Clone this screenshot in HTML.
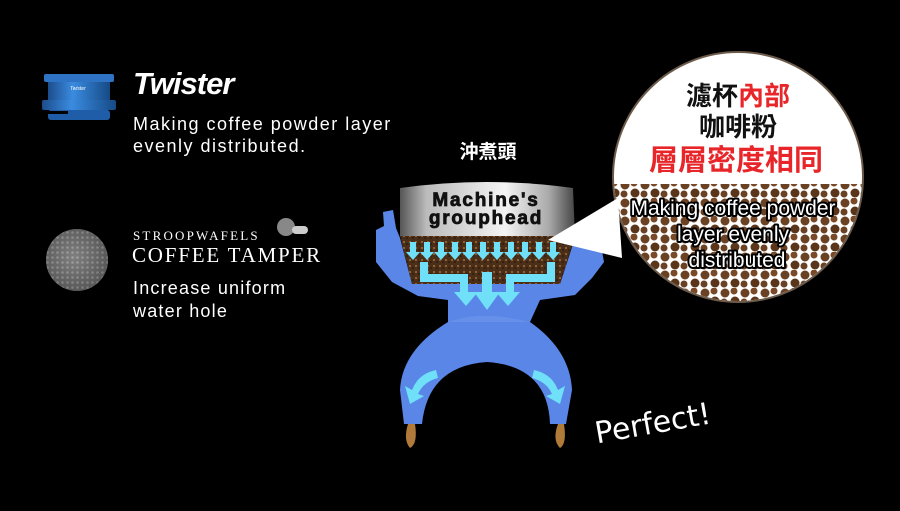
<!DOCTYPE html>
<html><head><meta charset="utf-8"><style>
html,body{margin:0;padding:0;background:#000;}
body{width:900px;height:506px;overflow:hidden;position:relative;font-family:"Liberation Sans","Noto Sans CJK TC",sans-serif;}
</style></head><body>
<svg width="900" height="506" viewBox="0 0 900 506" xmlns="http://www.w3.org/2000/svg">
<defs>
<linearGradient id="metal" x1="0" x2="1" y1="0" y2="0">
<stop offset="0" stop-color="#555"/><stop offset="0.15" stop-color="#bbb"/><stop offset="0.6" stop-color="#f4f4f4"/><stop offset="0.85" stop-color="#aaa"/><stop offset="1" stop-color="#444"/>
</linearGradient>
<linearGradient id="blueTool" x1="0" x2="1"><stop offset="0" stop-color="#1c4d8c"/><stop offset="0.4" stop-color="#3a8be0"/><stop offset="1" stop-color="#164a86"/></linearGradient>
<radialGradient id="mesh" cx="0.45" cy="0.45" r="0.6"><stop offset="0" stop-color="#999"/><stop offset="1" stop-color="#444"/></radialGradient>
<pattern id="dots" width="20" height="18" patternUnits="userSpaceOnUse">
<rect width="20" height="18" fill="#fff"/>
<circle cx="5" cy="5" r="4.5" fill="#6b4124"/><circle cx="15" cy="13" r="4.5" fill="#5a3519"/><circle cx="14" cy="3" r="3.5" fill="#7a4a28"/><circle cx="4" cy="14" r="3.5" fill="#6b4124"/>
</pattern>
<pattern id="grounds" width="6" height="6" patternUnits="userSpaceOnUse">
<rect width="6" height="6" fill="#4a2e18"/><circle cx="2" cy="2" r="1" fill="#a07040"/><circle cx="5" cy="4" r="0.8" fill="#1e120a"/>
</pattern>
<pattern id="hex" width="5" height="5" patternUnits="userSpaceOnUse"><rect width="5" height="5" fill="#666"/><circle cx="2.5" cy="2.5" r="1.3" fill="#aaa"/></pattern>
<clipPath id="cc"><circle cx="738" cy="177" r="124"/></clipPath>
</defs>

<g>
<rect x="44" y="74" width="70" height="8" rx="2" fill="#2f73c4"/>
<rect x="48" y="82" width="62" height="20" fill="url(#blueTool)"/>
<rect x="42" y="100" width="74" height="10" rx="2" fill="url(#blueTool)"/>
<rect x="48" y="110" width="62" height="10" rx="3" fill="#1f5da8"/>
<rect x="46" y="111" width="22" height="3" fill="#000"/>
<text x="70" y="90" font-size="5" fill="#fff" font-style="italic">Twister</text>
</g>
<text x="133" y="94" font-size="31" font-weight="bold" font-style="italic" fill="#fff" letter-spacing="-1">Twister</text>
<text x="133" y="130" font-size="18" fill="#fff" letter-spacing="1.5">Making coffee powder layer</text>
<text x="133" y="152" font-size="18" fill="#fff" letter-spacing="1.5">evenly distributed.</text>

<circle cx="77" cy="260" r="31" fill="url(#hex)"/>
<circle cx="77" cy="260" r="31" fill="url(#mesh)" opacity="0.5"/>
<text x="133" y="240" font-size="13" fill="#fff" font-family="Liberation Serif,serif" letter-spacing="2.2">STROOPWAFELS</text>
<circle cx="286" cy="227" r="9" fill="#888"/><rect x="292" y="226" width="16" height="8" rx="4" fill="#ccc"/>
<text x="132" y="262" font-size="21" fill="#fff" font-family="Liberation Serif,serif" letter-spacing="1.8">COFFEE TAMPER</text>
<text x="133" y="294" font-size="18" fill="#fff" letter-spacing="1.2">Increase uniform</text>
<text x="133" y="317" font-size="18" fill="#fff" letter-spacing="1.2">water hole</text>

<text x="488" y="158" font-size="19" font-weight="bold" fill="#fff" text-anchor="middle" font-family="Noto Sans CJK TC,sans-serif">沖煮頭</text>

<path d="M383 212 L393 210 L396 228 L400 238 L412 284 L560 284 L575 238 L590 234 L600 240 L604 262 L592 278 L575 295 L540 300 L530 322 Q570 350 572 390 L566 424 L550 424 Q548 366 487 362 Q428 366 422 424 L404 424 L400 390 Q402 350 448 322 L448 300 L418 296 L392 282 L376 262 L376 230 L384 226 Z" fill="#5a86e8"/>
<path d="M448 322 L530 322 Q500 315 487 316 Q470 315 448 322 Z" fill="#7aa0f0" opacity="0.4"/>

<path d="M400 236 L575 236 L560 284 L412 284 Z" fill="url(#grounds)"/>
<path d="M400 188 Q487 176 573 188 L575 236 L400 236 Z" fill="url(#metal)"/>
<text x="486" y="206" font-size="19" font-weight="bold" fill="#111" text-anchor="middle" letter-spacing="1.8" stroke="#111" stroke-width="0.8">Machine's</text>
<text x="486" y="224" font-size="19" font-weight="bold" fill="#111" text-anchor="middle" letter-spacing="1.8" stroke="#111" stroke-width="0.8">grouphead</text>

<g fill="#6fe0f8">
<path d="M410 242h6v10h4l-7 8-7-8h4z"/><path d="M424 242h6v10h4l-7 8-7-8h4z"/><path d="M438 242h6v10h4l-7 8-7-8h4z"/><path d="M452 242h6v10h4l-7 8-7-8h4z"/><path d="M466 242h6v10h4l-7 8-7-8h4z"/><path d="M480 242h6v10h4l-7 8-7-8h4z"/><path d="M494 242h6v10h4l-7 8-7-8h4z"/><path d="M508 242h6v10h4l-7 8-7-8h4z"/><path d="M522 242h6v10h4l-7 8-7-8h4z"/><path d="M536 242h6v10h4l-7 8-7-8h4z"/><path d="M550 242h6v10h4l-7 8-7-8h4z"/>
<path d="M420 262 L428 262 L428 274 L468 274 L468 292 L478 292 L466 306 L454 292 L460 292 L460 282 L420 282 Z"/>
<path d="M555 262 L547 262 L547 274 L506 274 L506 292 L496 292 L508 306 L520 292 L514 292 L514 282 L555 282 Z"/>
<path d="M482 272 L492 272 L492 292 L500 292 L487 310 L474 292 L482 292 Z"/>
<path d="M436 370 Q418 374 412 390 L405 386 L410 404 L424 396 L418 394 Q423 382 438 378 Z"/>
<path d="M534 370 Q552 374 558 390 L565 386 L560 404 L546 396 L552 394 Q547 382 532 378 Z"/>
</g>
<path d="M408 424 Q403 440 410 448 Q418 444 415 424 Z" fill="#b07a3a"/>
<path d="M558 424 Q552 440 560 448 Q567 444 564 424 Z" fill="#b07a3a"/>

<circle cx="738" cy="177" r="125" fill="#fff" stroke="#6b5a4a" stroke-width="2"/>
<rect x="600" y="184" width="280" height="130" fill="url(#dots)" clip-path="url(#cc)"/>
<path d="M548 240 L618 198 L622 258 Z" fill="#fff"/>
<g font-family="Noto Sans CJK TC,sans-serif" font-weight="bold" text-anchor="middle">
<text x="738" y="105" font-size="26"><tspan fill="#111">濾杯</tspan><tspan fill="#e8262a">內部</tspan></text>
<text x="738" y="136" font-size="26" fill="#111">咖啡粉</text>
<text x="736" y="170" fill="#e8262a" font-size="29">層層密度相同</text>
</g>
<g font-size="21" text-anchor="middle" fill="#fff" stroke="#000" stroke-width="4" paint-order="stroke" stroke-linejoin="round">
<text x="733" y="215">Making coffee powder</text>
<text x="733" y="241">layer evenly</text>
<text x="737" y="267">distributed</text>
</g>

<text x="592" y="432" font-size="30" fill="#fff" font-family="DejaVu Sans,sans-serif" transform="rotate(-10 660 410)">Perfect!</text>
</svg>
</body></html>
